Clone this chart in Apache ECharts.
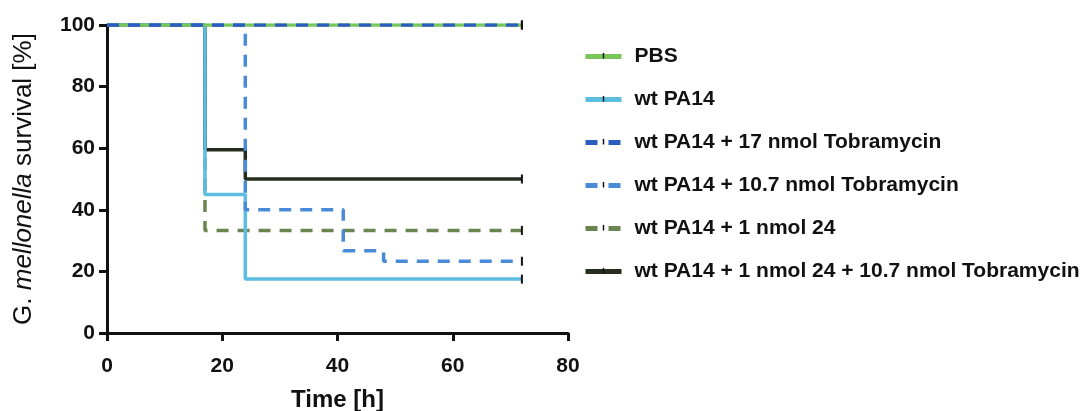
<!DOCTYPE html>
<html>
<head>
<meta charset="utf-8">
<script src="https://cdn.jsdelivr.net/npm/echarts@6/dist/echarts.min.js"></script>
<style>
  html, body { margin: 0; padding: 0; background: #fff; }
  #chart { width: 1092px; height: 411px; }
</style>
</head>
<body>
<div id="chart"></div>
<script>
// Kaplan-Meier survival of G. mellonella larvae (time in hours, survival in %)
const seriesNames = [
  'PBS',
  'wt PA14',
  'wt PA14 + 17 nmol Tobramycin',
  'wt PA14 + 10.7 nmol Tobramycin',
  'wt PA14 + 1 nmol 24',
  'wt PA14 + 1 nmol 24 + 10.7 nmol Tobramycin'
];
const timePBS = [0, 72];
const survPBS = [100, 100];
const timeWT = [0, 17, 24, 72];
const survWT = [100, 45, 17.5, 17.5];
const timeTob17 = [0, 72];
const survTob17 = [100, 100];
const timeTob107 = [0, 24, 41, 48, 72];
const survTob107 = [100, 40, 26.7, 23.3, 23.3];
const time24 = [0, 17, 72];
const surv24 = [100, 33.3, 33.3];
const timeCombo = [0, 17, 24, 72];
const survCombo = [100, 59.5, 50, 50];

const xTicks = [0, 20, 40, 60, 80];
const yTicks = [0, 20, 40, 60, 80, 100];

const colors = {
  'PBS': '#78c65b',
  'wt PA14': '#5bbde0',
  'wt PA14 + 17 nmol Tobramycin': '#2b5cbf',
  'wt PA14 + 10.7 nmol Tobramycin': '#4a8bd8',
  'wt PA14 + 1 nmol 24': '#6a8650',
  'wt PA14 + 1 nmol 24 + 10.7 nmol Tobramycin': '#252d1f'
};
const dashedNames = [
  'wt PA14 + 17 nmol Tobramycin',
  'wt PA14 + 10.7 nmol Tobramycin',
  'wt PA14 + 1 nmol 24'
];

// thin vertical censor mark at the last observation
const censorMark = 'path://M0,0H2V9H0Z';
// same mark inside a square frame (empty corner points), used for the legend icon
const legendMark = 'path://M0,0L0,0M10,10L10,10M4.1,0.5H5.9V7.5H4.1Z';

function makeSeries(name, times, surv) {
  const dashed = dashedNames.includes(name);
  const data = times.map((t, i) => {
    const last = i === times.length - 1;
    return last
      ? { value: [t, surv[i]], symbol: censorMark, symbolSize: [2, 9] }
      : { value: [t, surv[i]], symbol: 'none' };
  });
  return {
    name: name,
    type: 'line',
    step: 'end',
    data: data,
    symbol: legendMark,
    symbolSize: 9,
    showAllSymbol: true,
    itemStyle: { color: '#111' },
    lineStyle: {
      color: colors[name],
      width: 3.5,
      type: dashed ? [12, 9] : 'solid',
      cap: 'butt'
    },
    emphasis: { disabled: true },
    animation: false
  };
}

const series = [
  makeSeries(seriesNames[4], time24, surv24),
  makeSeries(seriesNames[5], timeCombo, survCombo),
  makeSeries(seriesNames[1], timeWT, survWT),
  makeSeries(seriesNames[0], timePBS, survPBS),
  makeSeries(seriesNames[3], timeTob107, survTob107),
  makeSeries(seriesNames[2], timeTob17, survTob17)
];

const legendData = seriesNames.map(name => ({
  name: name,
  lineStyle: {
    color: colors[name],
    width: 5,
    type: dashedNames.includes(name) ? [12, 11] : 'solid',
    cap: 'butt'
  }
}));

const chart = echarts.init(document.getElementById('chart'), null, { renderer: 'canvas' });

const axisFont = 'Liberation Sans, Arial, sans-serif';

chart.setOption({
  backgroundColor: '#fff',
  animation: false,
  grid: { left: 107, right: 524, top: 25, bottom: 78, containLabel: false, outerBoundsMode: 'none' },
  xAxis: {
    type: 'value',
    min: xTicks[0],
    max: xTicks[xTicks.length - 1],
    interval: 20,
    name: 'Time [h]',
    nameLocation: 'middle',
    nameGap: 55,
    nameTextStyle: { fontFamily: axisFont, fontWeight: 'bold', fontSize: 24, color: '#111' },
    axisLine: { onZero: false, lineStyle: { color: '#111', width: 3 } },
    axisTick: { show: true, length: 8, lineStyle: { color: '#111', width: 3 } },
    axisLabel: { fontFamily: axisFont, fontWeight: 'bold', fontSize: 21, color: '#111', margin: 23 },
    splitLine: { show: false }
  },
  yAxis: {
    type: 'value',
    min: yTicks[0],
    max: yTicks[yTicks.length - 1],
    interval: 20,
    name: '{n|G. }{i|mellonella}{n| survival [%]}',
    nameLocation: 'middle',
    nameRotate: 90,
    nameGap: 70,
    nameTextStyle: {
      color: '#111',
      rich: {
        n: { fontFamily: axisFont, fontSize: 26, color: '#111' },
        i: { fontFamily: axisFont, fontSize: 26, fontStyle: 'italic', color: '#111' }
      }
    },
    axisLine: { show: true, lineStyle: { color: '#111', width: 3 } },
    axisTick: { show: true, length: 8, lineStyle: { color: '#111', width: 3 } },
    axisLabel: { fontFamily: axisFont, fontWeight: 'bold', fontSize: 21, color: '#111', margin: 12 },
    splitLine: { show: false }
  },
  legend: {
    orient: 'vertical',
    left: 578,
    top: 41,
    itemWidth: 36,
    itemHeight: 10,
    itemGap: 22,
    selectedMode: false,
    data: legendData,
    textStyle: { fontFamily: axisFont, fontWeight: 'bold', fontSize: 21, color: '#111', padding: [0, 0, 0, 8] }
  },
  series: series
});
</script>
</body>
</html>
